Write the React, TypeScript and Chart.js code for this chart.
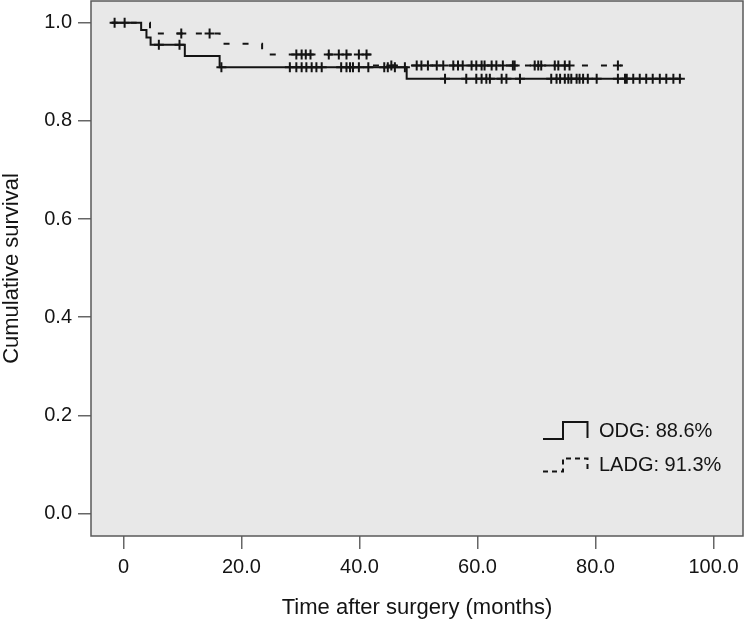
import React, { useEffect, useRef } from 'react';
import { Chart, registerables } from 'chart.js';

Chart.register(...registerables);

const FONT = "'Liberation Sans', Arial, Helvetica, sans-serif";

const xTicks = [0, 20, 40, 60, 80, 100];
const yTicks = [0, 0.2, 0.4, 0.6, 0.8, 1.0];

// ODG Kaplan-Meier steps (time in months, cumulative survival)
const odgTimes = [-2, 3.0, 3.9, 4.6, 10.4, 16.3, 48.0, 94.6];
const odgSurv = [1.0, 0.985, 0.97, 0.955, 0.932, 0.909, 0.886, 0.886];
const odgCensored = [
  -1.5, 6.0, 9.5, 16.6, 28.2, 29.3, 30.2, 31.0, 31.9, 32.7, 33.6, 36.9, 37.8, 38.4, 38.9, 39.9,
  41.5, 44.2, 44.8, 46.0, 47.7, 54.5, 58.1, 59.8, 60.7, 61.5, 62.1, 64.1, 64.9, 67.2, 72.5, 73.4,
  74.0, 74.8, 75.4, 75.9, 76.8, 77.3, 77.9, 78.7, 80.2, 83.8, 85.0, 85.3, 86.4, 87.5, 88.6, 89.7,
  90.9, 92.0, 93.2, 94.3,
];

// LADG Kaplan-Meier steps
const ladgTimes = [-2, 4.5, 16.3, 23.5, 42.0, 84.4];
const ladgSurv = [1.0, 0.978, 0.957, 0.935, 0.913, 0.913];
const ladgCensored = [
  0.2, 9.8, 14.6, 29.3, 30.2, 30.9, 31.7, 34.8, 36.5, 37.8, 39.9, 41.2, 45.4, 49.7, 50.5, 51.6,
  53.1, 54.2, 55.9, 56.7, 57.5, 59.0, 59.8, 60.7, 61.2, 62.4, 63.2, 64.3, 66.0, 66.3, 69.7, 70.3,
  70.8, 73.1, 73.7, 74.8, 75.6, 83.8,
];

const legendLabels = ['ODG: 88.6%', 'LADG: 91.3%'];

function survAt(times: number[], surv: number[], t: number): number {
  let s = surv[0];
  for (let i = 0; i < times.length; i++) {
    if (times[i] <= t) s = surv[i];
  }
  return s;
}

const INK = '#141414';

const bgPlugin = {
  id: 'plotBg',
  beforeDraw(chart: any) {
    const { ctx, chartArea } = chart;
    ctx.save();
    ctx.fillStyle = '#ffffff';
    ctx.fillRect(0, 0, chart.width, chart.height);
    ctx.fillStyle = '#e8e8e8';
    ctx.fillRect(chartArea.left, chartArea.top, chartArea.right - chartArea.left, chartArea.bottom - chartArea.top);
    ctx.restore();
  },
  afterDraw(chart: any) {
    const { ctx, chartArea } = chart;
    const { left, right, top, bottom } = chartArea;
    ctx.save();
    ctx.strokeStyle = '#5a5a5a';
    ctx.lineWidth = 1.5;
    ctx.strokeRect(left, top, right - left, bottom - top);

    // legend
    ctx.strokeStyle = INK;
    ctx.lineWidth = 2;
    ctx.setLineDash([]);
    const x0 = right - 200;
    const x1 = right - 180;
    const x2 = right - 155.5;
    let yb = bottom - 97;
    let yt = bottom - 114;
    ctx.beginPath();
    ctx.moveTo(x0, yb);
    ctx.lineTo(x1, yb);
    ctx.lineTo(x1, yt);
    ctx.lineTo(x2, yt);
    ctx.lineTo(x2, yb - 1);
    ctx.stroke();

    yb = bottom - 64.5;
    yt = bottom - 77.5;
    ctx.setLineDash([5, 4]);
    ctx.beginPath();
    ctx.moveTo(x0, yb);
    ctx.lineTo(x1, yb);
    ctx.lineTo(x1, yt);
    ctx.lineTo(x2, yt);
    ctx.lineTo(x2, yb);
    ctx.stroke();
    ctx.setLineDash([]);

    ctx.fillStyle = INK;
    ctx.font = `20px ${FONT}`;
    ctx.textBaseline = 'middle';
    ctx.textAlign = 'left';
    ctx.fillText(legendLabels[0], right - 144, bottom - 105);
    ctx.fillText(legendLabels[1], right - 144, bottom - 71);
    ctx.restore();
  },
};

export default function App() {
  const ref = useRef<HTMLCanvasElement | null>(null);

  useEffect(() => {
    if (!ref.current) return;
    const chart = new Chart(ref.current, {
      type: 'scatter',
      data: {
        datasets: [
          {
            label: 'ODG',
            data: odgTimes.map((t, i) => ({ x: t, y: odgSurv[i] })),
            showLine: true,
            stepped: true,
            borderColor: INK,
            borderWidth: 2,
            pointRadius: 0,
          },
          {
            label: 'ODG censored',
            data: odgCensored.map((t) => ({ x: t, y: survAt(odgTimes, odgSurv, t) })),
            showLine: false,
            pointStyle: 'cross',
            pointRadius: 5,
            borderColor: INK,
            borderWidth: 2,
          },
          {
            label: 'LADG',
            data: ladgTimes.map((t, i) => ({ x: t, y: ladgSurv[i] })),
            showLine: true,
            stepped: true,
            borderColor: INK,
            borderWidth: 2,
            borderDash: [6, 13],
            pointRadius: 0,
          },
          {
            label: 'LADG censored',
            data: ladgCensored.map((t) => ({ x: t, y: survAt(ladgTimes, ladgSurv, t) })),
            showLine: false,
            pointStyle: 'cross',
            pointRadius: 5,
            borderColor: INK,
            borderWidth: 2,
          },
        ] as any,
      },
      options: {
        animation: false,
        responsive: false,
        devicePixelRatio: 1,
        layout: { autoPadding: false, padding: { top: 1, right: 1, left: 0, bottom: 0 } },
        plugins: {
          legend: { display: false },
          tooltip: { enabled: false },
        },
        scales: {
          x: {
            type: 'linear',
            min: -5.5,
            max: 105,
            afterBuildTicks: (s: any) => {
              s.ticks = xTicks.map((v) => ({ value: v }));
            },
            afterFit: (s: any) => {
              s.height = 85;
              s.paddingLeft = 0;
              s.paddingRight = 0;
            },
            ticks: {
              callback: (v: any) => (Number(v) === 0 ? '0' : Number(v).toFixed(1)),
              font: { family: FONT, size: 20 },
              color: INK,
              padding: 6,
              maxRotation: 0,
              autoSkip: false,
            },
            grid: { drawOnChartArea: false, drawTicks: true, tickLength: 13, color: '#666', lineWidth: 1.5 },
            border: { display: false },
            title: {
              display: true,
              text: 'Time after surgery (months)',
              font: { family: FONT, size: 22, lineHeight: 1.2 },
              color: INK,
              padding: 0,
            },
          },
          y: {
            type: 'linear',
            min: -0.0458,
            max: 1.0442,
            afterBuildTicks: (s: any) => {
              s.ticks = yTicks.map((v) => ({ value: v }));
            },
            afterFit: (s: any) => {
              s.width = 91;
              s.paddingTop = 0;
              s.paddingBottom = 0;
            },
            ticks: {
              callback: (v: any) => Number(v).toFixed(1),
              font: { family: FONT, size: 20 },
              color: INK,
              padding: 6,
              autoSkip: false,
            },
            grid: { drawOnChartArea: false, drawTicks: true, tickLength: 13, color: '#666', lineWidth: 1.5 },
            border: { display: false },
            title: {
              display: true,
              text: 'Cumulative survival',
              font: { family: FONT, size: 22, lineHeight: 1.1 },
              color: INK,
              padding: 0,
            },
          },
        },
      } as any,
      plugins: [bgPlugin],
    });
    return () => chart.destroy();
  }, []);

  return (
    <div style={{ position: 'fixed', left: 0, top: 0, width: 744, height: 621 }}>
      <canvas ref={ref} width={744} height={621} style={{ display: 'block', width: 744, height: 621 }} />
    </div>
  );
}
